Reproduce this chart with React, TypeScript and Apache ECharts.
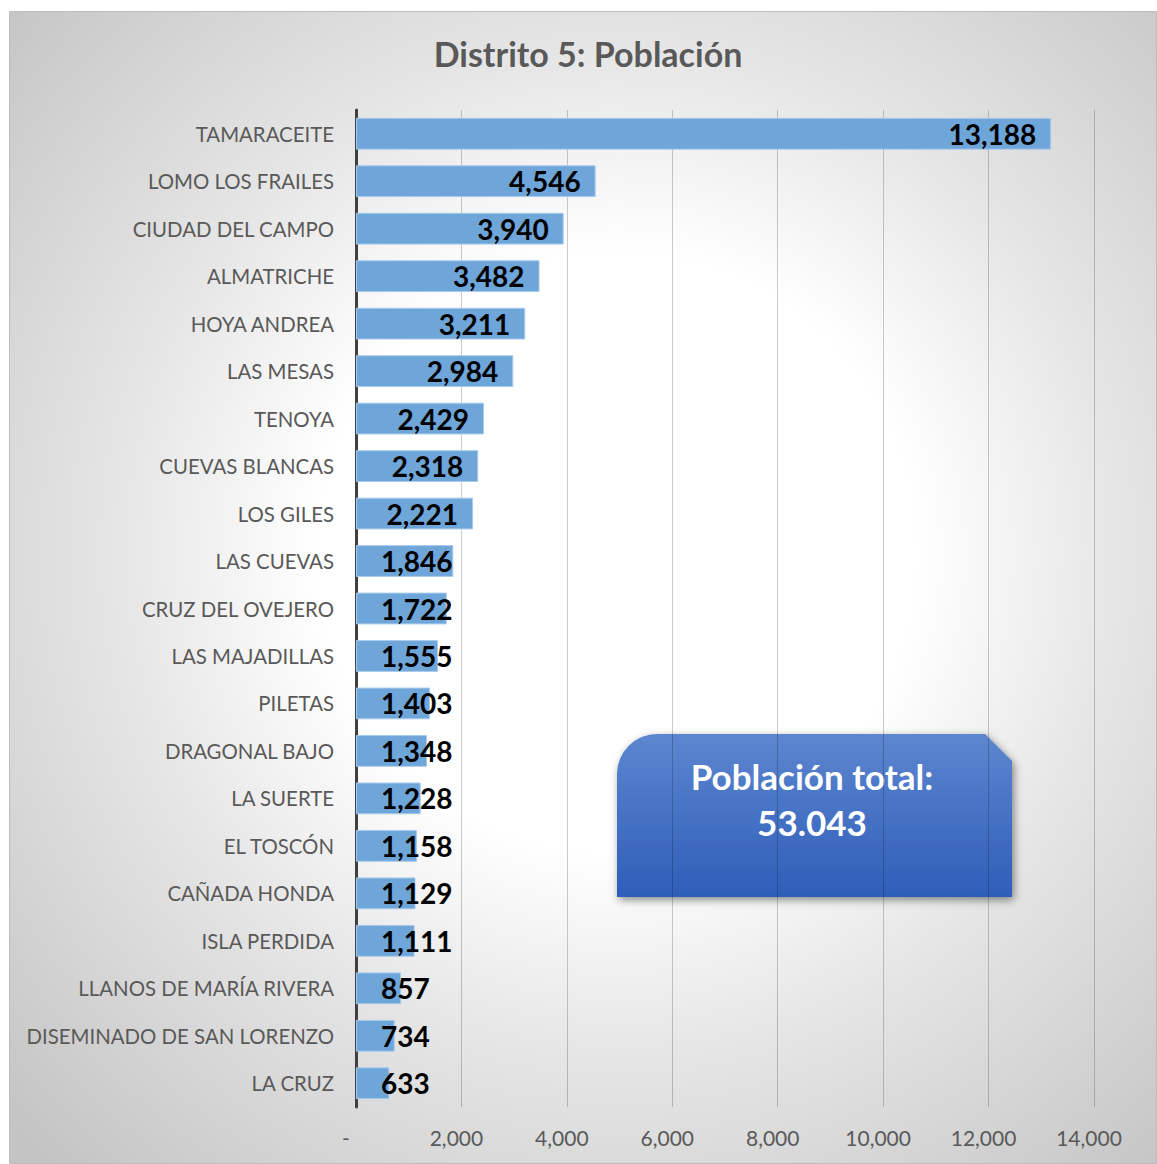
import { useEffect, useRef } from 'react';
import * as echarts from 'echarts';

const chartTitle = 'Distrito 5: Población';
const categories = [
  'TAMARACEITE', 'LOMO LOS FRAILES', 'CIUDAD DEL CAMPO', 'ALMATRICHE', 'HOYA ANDREA',
  'LAS MESAS', 'TENOYA', 'CUEVAS BLANCAS', 'LOS GILES', 'LAS CUEVAS', 'CRUZ DEL OVEJERO',
  'LAS MAJADILLAS', 'PILETAS', 'DRAGONAL BAJO', 'LA SUERTE', 'EL TOSCÓN', 'CAÑADA HONDA',
  'ISLA PERDIDA', 'LLANOS DE MARÍA RIVERA', 'DISEMINADO DE SAN LORENZO', 'LA CRUZ',
];
const values = [
  13188, 4546, 3940, 3482, 3211, 2984, 2429, 2318, 2221, 1846, 1722,
  1555, 1403, 1348, 1228, 1158, 1129, 1111, 857, 734, 633,
];
const xMin = 0;
const xMax = 14000;
const xInterval = 2000;
const calloutLines = ['Población total:', '53.043'];

const fmt = (v: number) => v.toLocaleString('en-US');

echarts.graphic.registerShape(
  'calloutBox',
  echarts.graphic.extendPath('M0 40 A40 40 0 0 1 40 0 L368 0 L395 27 L395 163 L0 163 Z', {})
);

export default function App() {
  const ref = useRef<HTMLDivElement>(null);
  useEffect(() => {
    const el = ref.current!;
    const chart = echarts.init(el, null, { renderer: 'svg' });
    const W = 1157;
    const gridLeft = 356, gridRight = 63, gridTop = 110, gridBottom = 57;
    const plotW = W - gridLeft - gridRight;
    const canvas = document.createElement('canvas');
    const ctx = canvas.getContext('2d')!;
    ctx.font = 'bold 28px Lato';
    const data = values.map((v) => {
      const barEnd = ((v - xMin) / (xMax - xMin)) * plotW;
      const w = ctx.measureText(fmt(v)).width;
      const fitsRight = barEnd - 15 - w >= 25;
      return {
        value: v,
        label: fitsRight
          ? { position: 'insideRight', distance: 15 }
          : { position: 'insideLeft', distance: 25 },
      };
    });

    const axisText = { color: '#595959', fontSize: 21, fontFamily: 'Lato' };

    chart.setOption({
      animation: false,
      backgroundColor: '#ffffff',
      title: {
        text: chartTitle,
        left: 583,
        top: 31,
        textAlign: 'center',
        textStyle: { fontSize: 34, fontWeight: 'bold', color: '#595959', fontFamily: 'Lato' },
      },
      grid: { left: gridLeft, right: gridRight, top: gridTop, bottom: gridBottom, containLabel: false },
      xAxis: {
        type: 'value',
        min: xMin,
        max: xMax,
        interval: xInterval,
        axisLine: { show: false },
        axisTick: { show: false },
        splitLine: { show: true, lineStyle: { color: 'rgba(0,0,0,0.2)', width: 1 } },
        axisLabel: {
          margin: 20,
          ...axisText,
          formatter: (v: number) => (v === 0 ? '{z|-}' : '{a|' + fmt(v) + '}'),
          rich: {
            z: { ...axisText, padding: [0, 20, 0, 0] },
            a: { ...axisText, padding: [0, 10, 0, 0] },
          },
        },
      },
      yAxis: {
        type: 'category',
        data: categories,
        inverse: true,
        axisLine: { show: true, lineStyle: { color: '#404040', width: 3 } },
        axisTick: { show: false },
        axisLabel: { margin: 22, color: '#595959', fontSize: 20.4, fontFamily: 'Lato' },
      },
      series: [
        {
          type: 'bar',
          data,
          barCategoryGap: '33%',
          itemStyle: { color: '#6fa6da', borderColor: '#a9cbeb', borderWidth: 1 },
          label: {
            show: true,
            color: '#000000',
            fontWeight: 'bold',
            fontSize: 28,
            fontFamily: 'Lato',
            formatter: (p: any) => fmt(p.value),
          },
          z: 3,
        },
      ],
      graphic: [
        {
          type: 'rect',
          z: -100,
          silent: true,
          shape: { x: 9.5, y: 11.5, width: 1147, height: 1152 },
          style: {
            fill: new echarts.graphic.RadialGradient(0.53, 0.47, 0.723, [
              { offset: 0, color: '#ffffff' },
              { offset: 0.36, color: '#ffffff' },
              { offset: 0.6, color: '#e6e6e6' },
              { offset: 1, color: '#c4c4c4' },
            ]),
            stroke: '#bdbdbd',
            lineWidth: 1,
          },
        },
        {
          type: 'group',
          z: 100,
          children: [
            {
              type: 'calloutBox',
              x: 617,
              y: 734,
              style: {
                fill: new echarts.graphic.LinearGradient(0, 0, 0, 1, [
                  { offset: 0, color: '#5d86d0' },
                  { offset: 1, color: '#2e5eb8' },
                ]),
                shadowBlur: 8,
                shadowColor: 'rgba(0,0,0,0.45)',
                shadowOffsetX: 2,
                shadowOffsetY: 3,
              },
            },
            {
              type: 'text',
              x: 812,
              y: 776,
              style: {
                text: calloutLines[0],
                fill: '#ffffff',
                font: 'bold 35px Lato',
                textAlign: 'center',
                textVerticalAlign: 'middle',
              },
            },
            {
              type: 'text',
              x: 812,
              y: 822,
              style: {
                text: calloutLines[1],
                fill: '#ffffff',
                font: 'bold 35px Lato',
                textAlign: 'center',
                textVerticalAlign: 'middle',
              },
            },
          ],
        },
      ],
    });
    return () => chart.dispose();
  }, []);
  return (
    <div
      ref={ref}
      style={{ position: 'absolute', left: 0, top: 0, width: 1157, height: 1164 }}
    />
  );
}
